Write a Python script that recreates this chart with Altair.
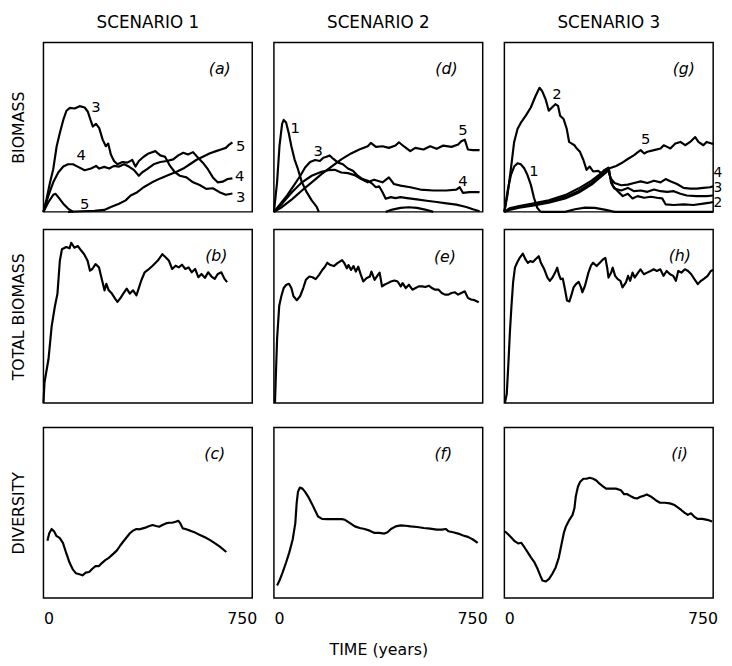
import altair as alt
import pandas as pd

FONT = "DejaVu Sans"

# ---------------- Scenario 1 : panel (a) species biomass ----------------
A3_X = [0, 12, 25, 37, 50, 62, 75, 87, 100, 118, 137, 156, 168, 178, 187, 199, 211, 224, 236, 245, 255, 267, 280, 299, 317, 336, 348, 361, 379, 398, 423, 442, 460, 479, 498, 516, 541, 566, 591, 616, 641, 666, 690, 715]
A3_Y = [0, 40, 90, 130, 200, 240, 280, 308, 317, 315, 322, 318, 305, 280, 260, 268, 255, 220, 200, 208, 175, 155, 145, 152, 150, 158, 138, 155, 168, 178, 185, 172, 168, 140, 120, 110, 105, 90, 82, 70, 72, 60, 52, 56]
A4_X = [0, 19, 37, 56, 75, 93, 112, 131, 156, 180, 199, 211, 230, 249, 267, 286, 305, 323, 342, 361, 373, 392, 417, 442, 467, 491, 510, 529, 547, 566, 585, 603, 622, 641, 659, 678, 697, 715]
A4_Y = [0, 50, 90, 120, 138, 145, 145, 137, 127, 132, 140, 132, 137, 132, 140, 138, 145, 138, 128, 110, 120, 130, 145, 152, 155, 160, 172, 180, 175, 182, 165, 150, 130, 105, 90, 92, 100, 102]
A5_X = [93, 143, 193, 230, 255, 286, 311, 330, 355, 379, 411, 442, 473, 504, 529, 554, 578, 603, 628, 653, 672, 690, 703, 715]
A5_Y = [0, 2, 3, 6, 15, 25, 35, 50, 60, 75, 90, 102, 112, 122, 132, 145, 158, 168, 178, 185, 190, 195, 205, 212]
A1_X = [0, 19, 37, 46, 56, 75, 93, 112]
A1_Y = [0, 30, 52, 55, 45, 25, 10, 0]
A_LAB_X = [199, 143, 156, 746, 743, 746]
A_LAB_Y = [320, 173, 25, 200, 110, 45]
A_LAB_T = ["3", "4", "5", "5", "4", "3"]

# ---------------- Scenario 2 : panel (d) ----------------
D1_X = [0, 12, 21, 31, 37, 46, 56, 66, 78, 91, 106, 124, 143, 162, 170]
D1_Y = [0, 90, 200, 268, 280, 272, 240, 200, 160, 130, 90, 60, 35, 15, 0]
D3_X = [0, 25, 50, 75, 100, 118, 137, 156, 174, 187, 199, 211, 224, 243, 261, 280, 299, 317, 336, 355, 373, 386, 398, 411, 423, 442, 460, 479, 504, 541, 578, 616, 653, 690, 728, 753, 778]
D3_Y = [0, 25, 50, 80, 110, 135, 152, 158, 155, 165, 168, 172, 162, 150, 145, 132, 125, 110, 100, 95, 85, 75, 78, 60, 40, 45, 42, 45, 42, 38, 34, 30, 26, 22, 15, 8, 2]
D4_X = [0, 31, 68, 106, 143, 180, 205, 230, 255, 280, 305, 330, 355, 379, 411, 435, 454, 479, 516, 554, 603, 653, 690, 703, 715, 740, 778]
D4_Y = [0, 25, 60, 90, 110, 122, 127, 128, 120, 118, 112, 100, 90, 98, 90, 105, 85, 80, 75, 68, 65, 65, 68, 75, 58, 60, 60]
D5_X = [0, 31, 68, 106, 143, 180, 218, 255, 292, 323, 355, 367, 386, 411, 435, 460, 473, 491, 516, 535, 566, 591, 616, 641, 672, 697, 709, 722, 734, 753, 778]
D5_Y = [0, 15, 38, 65, 90, 115, 138, 160, 178, 190, 200, 210, 198, 200, 195, 202, 212, 200, 185, 195, 190, 200, 192, 202, 198, 205, 215, 220, 190, 188, 188]
D2_X = [423, 448, 479, 510, 541, 572, 603]
D2_Y = [0, 7, 12, 14, 12, 7, 0]
D_LAB_X = [81, 168, 715, 715]
D_LAB_Y = [255, 185, 250, 95]
D_LAB_T = ["1", "3", "5", "4"]

# ---------------- Scenario 3 : panel (g) ----------------
G1_X = [0, 12, 25, 37, 50, 62, 75, 87, 100, 112, 124, 137]
G1_Y = [0, 63, 113, 138, 148, 145, 133, 113, 83, 43, 13, 0]
G2_X = [0, 12, 25, 37, 50, 62, 81, 100, 118, 133, 143, 156, 168, 180, 193, 203, 211, 224, 236, 245, 255, 265, 274, 286, 299, 311, 323, 336, 355, 367, 379, 392, 398, 411, 429, 448, 467, 485, 504, 529, 554, 578, 597, 610, 641, 678, 715, 753, 778, 790]
G2_Y = [0, 53, 133, 213, 253, 271, 293, 318, 353, 378, 368, 343, 308, 318, 328, 323, 293, 283, 253, 213, 208, 203, 193, 183, 158, 128, 138, 123, 125, 118, 128, 133, 113, 78, 63, 48, 55, 41, 48, 43, 46, 43, 41, 23, 21, 23, 21, 25, 28, 30]
G3_X = [0, 19, 56, 106, 168, 230, 280, 330, 367, 396, 404, 417, 442, 467, 491, 516, 541, 566, 591, 616, 641, 666, 690, 728, 765, 790]
G3_Y = [0, 6, 13, 19, 28, 41, 58, 83, 108, 128, 88, 71, 65, 73, 63, 65, 61, 68, 63, 61, 63, 55, 50, 48, 48, 50]
G4_X = [0, 19, 56, 106, 168, 230, 280, 330, 367, 394, 401, 417, 442, 467, 491, 516, 541, 566, 591, 610, 628, 653, 678, 703, 728, 753, 778, 790]
G4_Y = [0, 11, 18, 25, 35, 51, 71, 95, 118, 135, 103, 88, 81, 83, 88, 93, 88, 95, 90, 100, 93, 85, 73, 71, 71, 73, 75, 78]
G5_X = [0, 19, 56, 106, 168, 230, 280, 330, 367, 398, 423, 442, 467, 491, 504, 516, 529, 541, 566, 591, 603, 616, 628, 647, 666, 684, 703, 722, 734, 753, 765, 784, 790]
G5_Y = [0, 8, 15, 21, 30, 45, 63, 88, 113, 133, 140, 148, 161, 173, 181, 188, 178, 183, 188, 193, 203, 198, 193, 208, 213, 203, 213, 228, 213, 203, 213, 208, 208]
G6_X = [137, 230, 267, 305, 342, 379, 417, 790]
G6_Y = [0, 0, 8, 13, 12, 7, 0, 0]
G_LAB_X = [199, 535, 112]
G_LAB_Y = [358, 223, 123]
G_LAB_T = ["2", "5", "1"]
G_EDGE_X = [808, 808, 808]
G_EDGE_Y = [118, 72, 26]
G_EDGE_T = ["4", "3", "2"]

# ---------------- Total biomass (b), (e), (h) ----------------
B_X = [0, 4, 19, 31, 43, 53, 62, 70, 86, 99, 105, 117, 130, 142, 154, 167, 176, 185, 197, 210, 216, 222, 231, 238, 247, 259, 271, 280, 290, 302, 315, 327, 339, 352, 358, 370, 383, 395, 413, 432, 450, 463, 475, 487, 500, 512, 524, 537, 549, 561, 574, 586, 598, 611, 623, 636, 648, 660, 673, 685, 695]
B_Y = [0, 63, 133, 233, 293, 333, 433, 468, 475, 471, 488, 473, 478, 465, 453, 433, 403, 408, 423, 413, 393, 373, 343, 363, 343, 333, 318, 308, 318, 333, 348, 333, 343, 328, 343, 373, 398, 405, 418, 433, 453, 443, 433, 408, 418, 413, 421, 408, 413, 398, 408, 383, 393, 381, 398, 385, 378, 393, 398, 378, 368]
E_X = [4, 7, 12, 20, 28, 37, 47, 57, 66, 74, 87, 99, 111, 121, 134, 146, 158, 171, 183, 193, 202, 214, 227, 239, 258, 267, 276, 282, 292, 301, 310, 319, 329, 338, 350, 363, 369, 381, 391, 400, 409, 418, 431, 443, 456, 468, 480, 487, 499, 511, 524, 536, 548, 561, 573, 586, 598, 610, 623, 635, 647, 660, 672, 685, 697, 709, 722, 734, 746, 759, 775]
E_Y = [0, 75, 195, 295, 325, 350, 360, 363, 350, 325, 313, 325, 350, 375, 385, 383, 377, 390, 405, 415, 427, 420, 417, 425, 435, 425, 410, 420, 405, 417, 400, 415, 390, 370, 380, 385, 400, 375, 387, 397, 355, 360, 365, 370, 373, 370, 355, 365, 350, 360, 345, 350, 355, 355, 353, 357, 350, 345, 345, 335, 330, 330, 335, 337, 330, 335, 340, 320, 315, 313, 307]
H_X = [2, 9, 15, 21, 27, 33, 40, 48, 58, 70, 80, 89, 98, 108, 117, 130, 138, 151, 163, 172, 182, 192, 200, 206, 213, 221, 229, 237, 246, 253, 262, 271, 281, 290, 295, 305, 318, 328, 336, 349, 361, 373, 382, 389, 394, 404, 410, 419, 429, 439, 447, 460, 468, 476, 485, 493, 506, 515, 528, 540, 553, 565, 577, 590, 602, 614, 627, 639, 649, 658, 670, 683, 695, 707, 719, 732, 744, 756, 769, 781, 790]
H_Y = [0, 27, 117, 217, 297, 367, 412, 427, 442, 455, 437, 427, 432, 429, 437, 447, 427, 407, 382, 372, 382, 397, 412, 392, 377, 379, 347, 312, 309, 327, 352, 362, 369, 352, 337, 357, 397, 419, 427, 417, 427, 437, 442, 412, 382, 397, 412, 387, 377, 372, 352, 367, 387, 372, 397, 382, 397, 407, 392, 397, 402, 407, 402, 407, 387, 402, 392, 387, 372, 402, 397, 407, 402, 392, 377, 362, 372, 379, 387, 402, 405]

# ---------------- Diversity (c), (f), (i) ----------------
C_X = [15, 22, 31, 41, 49, 62, 74, 86, 99, 111, 123, 136, 148, 160, 173, 185, 197, 210, 222, 234, 247, 265, 278, 290, 302, 315, 327, 339, 352, 364, 376, 389, 401, 413, 426, 438, 450, 463, 475, 487, 500, 510, 518, 527, 537, 555, 574, 592, 611, 629, 648, 666, 692]
C_Y = [174, 197, 210, 202, 189, 182, 167, 137, 107, 87, 75, 72, 69, 77, 79, 89, 97, 97, 107, 115, 122, 135, 145, 159, 172, 185, 197, 205, 210, 209, 212, 215, 219, 222, 219, 217, 222, 227, 229, 229, 232, 235, 227, 212, 210, 205, 199, 192, 185, 177, 167, 157, 140]
F_X = [12, 21, 33, 46, 58, 71, 81, 86, 91, 98, 108, 118, 130, 143, 155, 167, 182, 201, 219, 238, 257, 269, 288, 306, 325, 343, 362, 381, 399, 418, 430, 443, 461, 480, 498, 517, 542, 567, 591, 616, 635, 651, 660, 678, 697, 716, 734, 753, 771]
F_Y = [38, 53, 78, 108, 138, 178, 228, 288, 323, 336, 333, 323, 308, 288, 268, 248, 241, 240, 240, 240, 240, 238, 228, 218, 213, 210, 205, 198, 198, 196, 200, 210, 218, 221, 220, 218, 216, 213, 211, 208, 208, 210, 203, 200, 196, 190, 186, 178, 168]
I_X = [2, 15, 27, 39, 52, 64, 77, 89, 101, 114, 126, 136, 144, 157, 169, 181, 194, 206, 216, 225, 233, 246, 258, 265, 270, 278, 286, 299, 311, 323, 336, 348, 360, 373, 385, 403, 422, 441, 453, 465, 478, 490, 502, 515, 527, 539, 552, 564, 576, 589, 607, 626, 644, 656, 669, 681, 694, 706, 718, 731, 749, 768, 786]
I_Y = [203, 193, 183, 173, 166, 168, 153, 138, 123, 108, 88, 68, 53, 50, 58, 73, 93, 123, 163, 198, 218, 238, 253, 273, 308, 338, 353, 363, 363, 366, 363, 358, 348, 340, 333, 333, 333, 328, 316, 316, 310, 305, 303, 308, 311, 315, 310, 303, 296, 290, 290, 288, 283, 276, 268, 260, 253, 258, 248, 241, 241, 238, 233]

# panel letters: (year, value)
LETTER_POS = {
    "a": (667, 435), "d": (653, 435), "g": (679, 435),
    "b": (654, 448), "e": (647, 445), "h": (664, 447),
    "c": (648, 437), "f": (641, 438), "i": (663, 438),
}

XDOM = [0, 790]
ROW_H = [172, 176, 173]
ROW_YDOM = [[0, 516], [0, 528], [0, 519]]
W = 212


def panel(series, letter, row, xaxis, yaxis, labels=None, title=None, edge=None):
    rows = []
    for name, (xs, ys) in series.items():
        for x, y in zip(xs, ys):
            rows.append({"year": x, "value": y, "sp": name})
    df = pd.DataFrame(rows)
    xs = alt.Scale(domain=XDOM, nice=False, zero=False)
    ys = alt.Scale(domain=ROW_YDOM[row], nice=False, zero=False)
    X = alt.X("year:Q", scale=xs, axis=xaxis)
    Y = alt.Y("value:Q", scale=ys, axis=yaxis)
    lines = alt.Chart(df).mark_line(color="black", strokeWidth=2.2, strokeJoin="round").encode(
        x=X, y=Y, detail="sp:N"
    )
    lx, ly = LETTER_POS[letter]
    ldf = pd.DataFrame({"year": [lx], "value": [ly], "t": ["(" + letter + ")"]})
    let = alt.Chart(ldf).mark_text(font=FONT, fontSize=16, fontStyle="italic", color="black").encode(
        x=X, y=Y, text="t:N"
    )
    layers = [lines, let]
    if labels is not None:
        tdf = pd.DataFrame({"year": labels[0], "value": labels[1], "t": labels[2]})
        layers.append(
            alt.Chart(tdf).mark_text(font=FONT, fontSize=15, color="black").encode(x=X, y=Y, text="t:N")
        )
    if edge is not None:
        edf = pd.DataFrame({"year": edge[0], "value": edge[1], "t": edge[2]})
        layers.append(
            alt.Chart(edf).mark_text(font=FONT, fontSize=14, color="black").encode(x=X, y=Y, text="t:N")
        )
    ch = alt.layer(*layers).properties(width=W, height=ROW_H[row])
    if title:
        ch = ch.properties(title=alt.TitleParams(title, font=FONT, fontSize=17, fontWeight="normal",
                                                 color="black", offset=11))
    return ch


def yax(t):
    return alt.Axis(title=t, labels=False, ticks=False, domain=False, grid=False,
                    titleFont=FONT, titleFontSize=16, titleFontWeight="normal",
                    titleColor="black", titlePadding=17)


def xax(t=None):
    kw = dict(values=[0, 750], labelFont=FONT, labelFontSize=16, labelColor="black",
              ticks=False, domain=False, grid=False, labelPadding=13, format="d",
              titleFont=FONT, titleFontSize=16, titleFontWeight="normal",
              titleColor="black", titlePadding=15)
    if t:
        return alt.Axis(title=t, **kw)
    return alt.Axis(title=None, **kw)


pa = panel({"1": (A1_X, A1_Y), "3": (A3_X, A3_Y), "4": (A4_X, A4_Y), "5": (A5_X, A5_Y)},
           "a", 0, None, yax("BIOMASS"), (A_LAB_X, A_LAB_Y, A_LAB_T), "SCENARIO 1")
pd_ = panel({"1": (D1_X, D1_Y), "2": (D2_X, D2_Y), "3": (D3_X, D3_Y), "4": (D4_X, D4_Y), "5": (D5_X, D5_Y)},
            "d", 0, None, None, (D_LAB_X, D_LAB_Y, D_LAB_T), "SCENARIO 2")
pg = panel({"1": (G1_X, G1_Y), "2": (G2_X, G2_Y), "3": (G3_X, G3_Y), "4": (G4_X, G4_Y),
            "5": (G5_X, G5_Y), "6": (G6_X, G6_Y)},
           "g", 0, None, None, (G_LAB_X, G_LAB_Y, G_LAB_T), "SCENARIO 3",
           edge=(G_EDGE_X, G_EDGE_Y, G_EDGE_T))

pb = panel({"t": (B_X, B_Y)}, "b", 1, None, yax("TOTAL  BIOMASS"))
pe = panel({"t": (E_X, E_Y)}, "e", 1, None, None)
ph = panel({"t": (H_X, H_Y)}, "h", 1, None, None)

pc = panel({"t": (C_X, C_Y)}, "c", 2, xax(), yax("DIVERSITY"))
pf = panel({"t": (F_X, F_Y)}, "f", 2, xax("TIME  (years)"), None)
pi = panel({"t": (I_X, I_Y)}, "i", 2, xax(), None)

row1 = alt.hconcat(pa, pd_, pg, spacing=22, bounds="flush")
row2 = alt.hconcat(pb, pe, ph, spacing=22, bounds="flush")
row3 = alt.hconcat(pc, pf, pi, spacing=22, bounds="flush")

lower = alt.vconcat(row2, row3, spacing=22)
chart = alt.vconcat(row1, lower, spacing=15).properties(
    padding={"left": 2, "top": 0, "right": 0, "bottom": -3}
).configure(background="white").configure_view(stroke="black", strokeWidth=1.5)

chart.save("out.html", embed_options={"renderer": "svg", "actions": False})
